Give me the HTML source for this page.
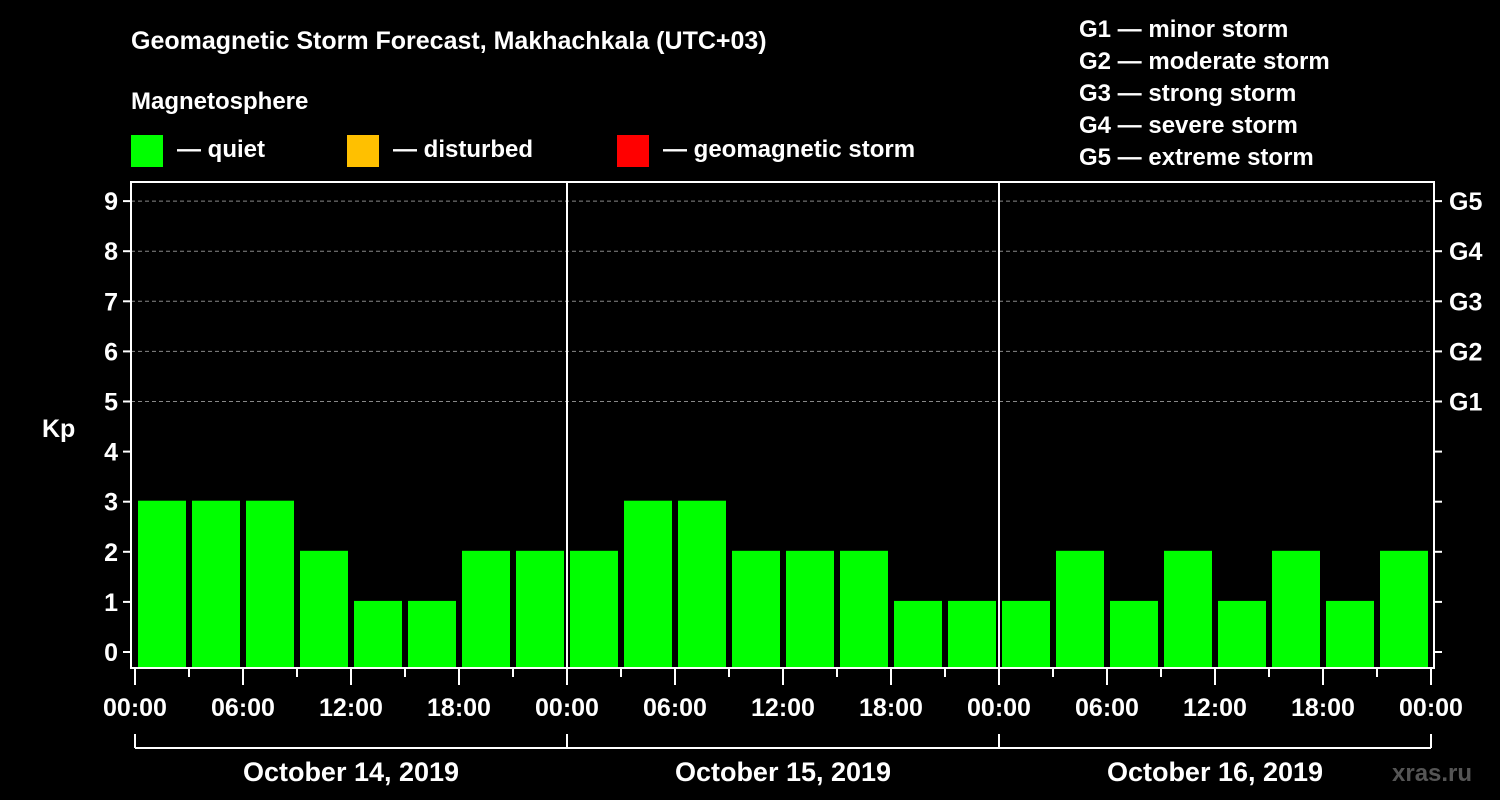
<!DOCTYPE html>
<html><head><meta charset="utf-8"><style>
body{margin:0;background:#000;}
svg{display:block;font-family:"Liberation Sans",Arial,sans-serif;font-weight:bold;}
</style></head><body>
<svg id="c" width="1500" height="800" xmlns="http://www.w3.org/2000/svg">
<rect width="1500" height="800" fill="#000"/>
<text x="131" y="49" fill="#fff" font-size="25">Geomagnetic Storm Forecast, Makhachkala (UTC+03)</text>
<text x="131" y="109" fill="#fff" font-size="24">Magnetosphere</text>
<rect x="131" y="135" width="32" height="32" fill="#00ff00"/>
<text x="177" y="157" fill="#fff" font-size="24">— quiet</text>
<rect x="347" y="135" width="32" height="32" fill="#ffc000"/>
<text x="393" y="157" fill="#fff" font-size="24">— disturbed</text>
<rect x="617" y="135" width="32" height="32" fill="#ff0000"/>
<text x="663" y="157" fill="#fff" font-size="24">— geomagnetic storm</text>
<g fill="#fff" font-size="24">
<text x="1079" y="37">G1 — minor storm</text>
<text x="1079" y="69">G2 — moderate storm</text>
<text x="1079" y="101">G3 — strong storm</text>
<text x="1079" y="133">G4 — severe storm</text>
<text x="1079" y="165">G5 — extreme storm</text>
</g>
<text x="42" y="437" fill="#fff" font-size="25">Kp</text>
<text x="1392" y="781" fill="#555" font-size="24">xras.ru</text>
<g id="plot"></g>
</svg>
<script>
const kpValues=[3,3,3,2,1,1,2,2, 2,3,3,2,2,2,1,1, 1,2,1,2,1,2,1,2];
const yTicks=[0,1,2,3,4,5,6,7,8,9];
const gLabels=["G1","G2","G3","G4","G5"];
const xTickLabels=["00:00","06:00","12:00","18:00","00:00","06:00","12:00","18:00","00:00","06:00","12:00","18:00","00:00"];
const dayLabels=["October 14, 2019","October 15, 2019","October 16, 2019"];
const NS="http://www.w3.org/2000/svg";
const g=document.getElementById('plot');
const X0=135,HOUR=18,L=131,R=1434,T=182,B=668;
const x=h=>X0+h*HOUR;
const y=v=>652-v*50.1;
function mk(t,a,p){const e=document.createElementNS(NS,t);for(const k in a)e.setAttribute(k,a[k]);(p||g).appendChild(e);return e;}
// grid
[5,6,7,8,9].forEach(v=>{const e=mk('line',{x1:L,x2:R,y1:y(v),y2:y(v),stroke:'#888','stroke-dasharray':'4,3','stroke-width':1});

});
// bars
kpValues.forEach((v,i)=>{const e=mk('rect',{x:x(i*3)+3,width:48,y:y(v)-1,height:B-y(v)+1,fill:'#00ff00'});

});
// separators
[1,2].forEach(d=>{const e=mk('line',{x1:x(d*24),x2:x(d*24),y1:T,y2:B,stroke:'#fff','stroke-width':2});

});
// frame
const fr=mk('rect',{x:L,y:T,width:R-L,height:B-T,fill:'none',stroke:'#fff','stroke-width':2});


// y ticks
yTicks.forEach(v=>{
mk('line',{x1:L-8,x2:L,y1:y(v),y2:y(v),stroke:'#fff','stroke-width':2});
mk('line',{x1:R,x2:R+8,y1:y(v),y2:y(v),stroke:'#fff','stroke-width':2});
const t=mk('text',{x:L-13,y:y(v)+9,fill:'#fff','font-size':25,'text-anchor':'end'});t.textContent=v;


});
gLabels.forEach((s,i)=>{const t=mk('text',{x:1449,y:y(5+i)+9,fill:'#fff','font-size':25});t.textContent=s;

});
// x ticks
for(let h=0;h<=72;h+=3){const major=h%6===0;mk('line',{x1:x(h),x2:x(h),y1:B,y2:B+(major?17:9),stroke:'#fff','stroke-width':2});}
xTickLabels.forEach((s,i)=>{const t=mk('text',{x:x(i*6),y:716,fill:'#fff','font-size':25,'text-anchor':'middle'});t.textContent=s;

});
// day bracket
mk('line',{x1:x(0),x2:x(72),y1:748,y2:748,stroke:'#fff','stroke-width':2});
for(let d=0;d<=3;d++)mk('line',{x1:x(d*24),x2:x(d*24),y1:734,y2:748,stroke:'#fff','stroke-width':2});
dayLabels.forEach((s,i)=>{const t=mk('text',{x:x(i*24+12),y:781,fill:'#fff','font-size':27,'text-anchor':'middle'});t.textContent=s;

});
</script>
</body></html>
